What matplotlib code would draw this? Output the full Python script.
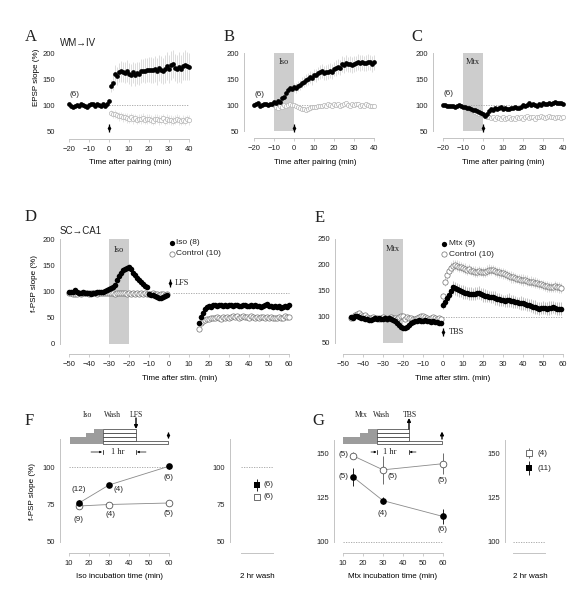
import numpy as np
import matplotlib
matplotlib.use("Agg")
import matplotlib.pyplot as plt
from matplotlib.patches import Rectangle

# ---- data ----
# A: WM->IV, pairing alone
a_t_pre = np.arange(-20, 1)
a_iso_pre = [102, 98, 97, 99, 100, 98, 101, 100, 99, 97,
             100, 102, 101, 99, 102, 100, 99, 101, 99, 102,
             107]
a_t_post = np.arange(1, 41)
a_iso_post = [137, 143, 160, 156, 163, 165, 163, 162, 165, 160,
              158, 163, 158, 161, 160, 165, 166, 166, 167, 168,
              168, 167, 169, 165, 172, 168, 166, 170, 175, 170,
              176, 178, 172, 170, 173, 169, 175, 177, 175, 174]
a_iso_err = [12, 14, 16, 18, 18, 20, 19, 20, 21, 20,
             21, 20, 22, 21, 22, 23, 22, 24, 23, 24,
             25, 24, 25, 26, 25, 26, 25, 27, 26, 27,
             28, 27, 26, 27, 28, 27, 26, 28, 27, 26]
a_ctl_post = [84, 82, 83, 80, 78, 79, 76, 77, 75, 74,
              76, 73, 75, 72, 74, 73, 75, 72, 73, 74,
              72, 70, 73, 74, 71, 72, 75, 70, 73, 72,
              71, 70, 72, 74, 71, 69, 72, 70, 73, 71]
a_ctl_err = [6, 7, 8, 7, 8, 8, 9, 8, 9, 8,
             9, 9, 8, 9, 8, 9, 9, 8, 9, 9,
             8, 9, 9, 8, 9, 9, 8, 9, 9, 8,
             9, 9, 8, 9, 9, 8, 9, 9, 8, 9]

# B: Iso before pairing
b_t = np.arange(-20, 41)
b_iso = [100, 101, 103, 99, 100, 101, 101, 100, 102, 101,
         105, 104, 108, 106, 113, 116, 123, 128, 132, 131,
         134, 133, 137, 139, 143, 145, 148, 150, 154, 151,
         158, 157, 161, 163, 165, 162, 163, 164, 166, 164,
         169, 171, 174, 172, 179, 177, 181, 178, 179, 177,
         179, 180, 183, 181, 182, 180, 181, 183, 182, 179,
         182]
b_iso_err = [3, 3, 3, 3, 3, 3, 3, 3, 3, 3,
             4, 4, 5, 5, 6, 6, 7, 7, 8, 8,
             9, 9, 10, 10, 10, 11, 11, 11, 12, 12,
             12, 12, 13, 13, 13, 13, 14, 14, 14, 14,
             14, 15, 15, 15, 15, 15, 15, 15, 15, 15,
             15, 15, 15, 15, 15, 15, 15, 15, 15, 15,
             15]
b_t_ctl = np.arange(-10, 41)
b_ctl = [100, 97, 95, 98, 96, 100, 99, 100, 101, 100,
         100, 98, 96, 94, 93, 92, 90, 93, 95, 96,
         97, 96, 98, 99, 98, 100, 99, 101, 100, 99,
         101, 100, 102, 99, 100, 101, 103, 100, 99, 101,
         100, 102, 101, 99, 100, 98, 101, 100, 99, 98,
         99]

# C: Mtx before pairing
c_t = np.arange(-20, 41)
c_mtx = [100, 100, 99, 99, 98, 99, 97, 99, 100, 99,
         97, 96, 95, 94, 92, 91, 90, 88, 86, 85,
         82, 78, 82, 88, 92, 90, 95, 93, 94, 97,
         93, 95, 92, 92, 95, 95, 97, 95, 95, 97,
         100, 98, 100, 103, 100, 102, 100, 98, 101, 100,
         104, 101, 102, 103, 102, 103, 106, 104, 104, 103,
         102]
c_t_ctl = np.arange(-10, 41)
c_ctl = [98, 96, 95, 93, 91, 89, 87, 85, 83, 82,
         80, 78, 77, 76, 75, 77, 74, 76, 75, 73,
         76, 74, 75, 77, 73, 75, 74, 76, 75, 77,
         74, 76, 78, 75, 77, 76, 74, 77, 76, 78,
         77, 75, 76, 78, 77, 76, 75, 77, 76, 75,
         76]

# D: SC->CA1, Iso and LFS
d_t_pre = np.arange(-50, 0)
d_iso_pre = [100, 99, 100, 102, 99, 98, 98, 99, 97, 98,
             97, 96, 98, 97, 99, 100, 99, 100, 101, 103,
             104, 106, 108, 113, 122, 130, 136, 141, 143, 145,
             146, 142, 136, 131, 126, 122, 118, 114, 111, 108,
             96, 94, 93, 91, 90, 88, 88, 90, 91, 93]
d_ctl_pre = [98, 97, 95, 96, 95, 97, 96, 97, 98, 97,
             96, 97, 98, 97, 96, 97, 98, 97, 98, 97,
             98, 97, 98, 96, 98, 97, 97, 98, 97, 96,
             97, 96, 97, 96, 97, 96, 97, 96, 97, 96,
             96, 95, 97, 95, 96, 94, 95, 96, 94, 95]
d_t_post = np.arange(15, 61)
d_iso_post = [40, 52, 60, 66, 70, 72, 71, 74, 75, 73,
              74, 75, 73, 74, 72, 75, 74, 73, 75, 74,
              72, 73, 75, 74, 72, 73, 75, 73, 74, 72,
              73, 71, 73, 74, 76, 73, 72, 70, 72, 70,
              72, 69, 71, 72, 71, 75]
d_ctl_post = [28, 40, 44, 46, 48, 47, 49, 50, 50, 51,
              50, 48, 51, 49, 52, 50, 51, 53, 52, 54,
              50, 52, 53, 51, 52, 50, 53, 51, 49, 52,
              50, 51, 52, 50, 51, 49, 51, 50, 50, 49,
              51, 50, 49, 53, 51, 51]

# E: Mtx and TBS
e_t_pre = np.arange(-46, 0)
e_mtx_pre = [100, 99, 102, 101, 100, 99, 98, 97, 96, 95,
             94, 97, 98, 97, 98, 97, 97, 98, 97, 98,
             96, 95, 93, 88, 84, 80, 79, 79, 81, 84,
             88, 91, 92, 93, 94, 93, 93, 94, 93, 92,
             91, 92, 91, 90, 89, 88]
e_ctl_pre = [98, 100, 104, 106, 107, 104, 102, 103, 100, 99,
             98, 100, 99, 98, 97, 99, 100, 98, 97, 99,
             100, 98, 99, 97, 100, 101, 101, 97, 100, 99,
             98, 97, 96, 99, 100, 101, 102, 100, 98, 97,
             99, 100, 98, 97, 98, 97]
e_t_post = np.arange(0, 60)
e_mtx_post = [124, 128, 136, 142, 150, 157, 155, 153, 151, 150,
              148, 147, 146, 145, 145, 144, 145, 146, 147, 144,
              142, 141, 140, 139, 138, 138, 137, 135, 134, 133,
              132, 131, 132, 133, 131, 130, 129, 128, 127, 127,
              126, 125, 124, 123, 122, 120, 119, 117, 116, 117,
              118, 117, 116, 117, 118, 119, 117, 116, 116, 116]
e_mtx_err = [8, 9, 10, 11, 12, 13, 12, 13, 12, 12,
             13, 12, 11, 12, 13, 12, 12, 11, 12, 12,
             13, 12, 12, 11, 12, 12, 13, 12, 12, 12,
             11, 12, 12, 13, 12, 12, 12, 11, 12, 13,
             12, 12, 12, 11, 12, 12, 13, 12, 12, 11,
             12, 12, 12, 13, 12, 12, 11, 12, 12, 12]
e_ctl_post = [140, 168, 180, 188, 195, 198, 200, 199, 197, 196,
              194, 193, 190, 192, 189, 188, 187, 186, 188, 187,
              186, 187, 189, 191, 190, 191, 189, 187, 186, 185,
              184, 183, 181, 179, 177, 176, 175, 174, 173, 172,
              171, 171, 170, 168, 168, 167, 166, 165, 164, 163,
              162, 160, 159, 158, 158, 157, 159, 158, 157, 156]
e_ctl_err = [6, 8, 9, 10, 10, 11, 10, 10, 11, 10,
             10, 11, 10, 10, 9, 10, 11, 10, 10, 9,
             10, 10, 11, 10, 10, 9, 10, 10, 11, 10,
             10, 9, 10, 10, 11, 10, 10, 9, 10, 10,
             11, 10, 10, 9, 10, 10, 11, 10, 10, 9,
             10, 10, 11, 10, 10, 9, 10, 10, 10, 9]

# F: Iso incubation time
f_t = [15, 30, 60]
f_iso = [76, 88, 100.5]
f_iso_err = [2, 1.5, 1.5]
f_iso_n = ["(12)", "(4)", "(6)"]
f_ctl = [74, 75, 76]
f_ctl_err = [1, 1, 1]
f_ctl_n = ["(9)", "(4)", "(5)"]
f_wash = [88, 80]
f_wash_err = [4, 1]
f_wash_n = ["(6)", "(6)"]

# G: Mtx incubation time
g_t = [15, 30, 60]
g_ctl = [149, 141, 144.5]
g_ctl_err = [2, 8, 6]
g_ctl_n = ["(5)", "(5)", "(5)"]
g_mtx = [137, 123.5, 114.5]
g_mtx_err = [5, 2, 4]
g_mtx_n = ["(5)", "(4)", "(6)"]
g_wash = [150.5, 142]
g_wash_err = [3, 4]
g_wash_n = ["(4)", "(11)"]

# ---- figure ----
SANS = ["Liberation Sans", "DejaVu Sans"]
SERIF = ["Liberation Serif", "DejaVu Serif"]
plt.rcParams["font.family"] = SANS
plt.rcParams["font.size"] = 5.8
plt.rcParams["text.color"] = "#222222"
plt.rcParams["xtick.labelcolor"] = "#222222"
plt.rcParams["ytick.labelcolor"] = "#222222"

AXC = "#c4c4c4"
SHADE = "#cdcdcd"
W, H = 588, 600
fig = plt.figure(figsize=(W / 100, H / 100), dpi=100)

# overlay in pixel coordinates for letters and schematics
ov = fig.add_axes([0, 0, 1, 1])
ov.set_xlim(0, W)
ov.set_ylim(H, 0)
ov.axis("off")


def panel(xp, xv, yp, yv, box, xb, yb):
    l, r, t, b = box
    sx = (xp[1] - xp[0]) / (xv[1] - xv[0])
    sy = (yp[1] - yp[0]) / (yv[1] - yv[0])
    ax = fig.add_axes([l / W, 1 - b / H, (r - l) / W, (b - t) / H])
    ax.set_xlim(xv[0] + (l - xp[0]) / sx, xv[0] + (r - xp[0]) / sx)
    ax.set_ylim(yv[0] + (b - yp[0]) / sy, yv[0] + (t - yp[0]) / sy)
    ax.patch.set_visible(False)
    ax.spines[["top", "right"]].set_visible(False)
    ax.spines[["left", "bottom"]].set_color(AXC)
    ax.spines[["left", "bottom"]].set_linewidth(0.7)
    ax.spines["left"].set_bounds(*yb)
    ax.spines["bottom"].set_bounds(*xb)
    ax.tick_params(axis="y", length=0, pad=3.5, labelsize=5.5)
    ax.tick_params(axis="x", length=2, width=0.6, color=AXC, pad=3, labelsize=5.5)
    return ax


def xlab(ax, s, px, py):
    ax.set_xlabel(s, fontsize=5.8)
    ax.xaxis.set_label_coords(px, py, transform=ov.transData)
    ax.xaxis.label.set_va("center")


def ylab(ax, s, px, py):
    ax.set_ylabel(s, fontsize=5.8)
    ax.yaxis.set_label_coords(px, py, transform=ov.transData)
    ax.yaxis.label.set_va("center")


def stim(ax, x, y):
    ax.plot([x], [y], marker="|", ms=5.5, mew=0.9, color="k", clip_on=False)
    ax.plot([x], [y], marker="d", ms=3.2, mew=0, color="k", clip_on=False)


def dashed(ax, x0, x1, y):
    ax.plot([x0, x1], [y, y], color="#a0a0a0", lw=0.6, dashes=(1.5, 1.5), zorder=1)


def shade(ax, x0, x1, y0, y1, s, ty):
    ax.add_patch(Rectangle((x0, y0), x1 - x0, y1 - y0, fc=SHADE, ec="none", zorder=0))
    ax.text((x0 + x1) / 2, ty, s, family=SERIF, fontsize=6, ha="center", va="center")


MS_AC = 3.4
black = dict(fmt="o", color="k", ms=MS_AC, mew=0, ecolor="#cfcfcf", elinewidth=0.5, capsize=0)
grey_open = dict(fmt="o", ms=3.1, mfc="white", mec="#b5b5b5", mew=0.5,
                 ecolor="#dadada", elinewidth=0.5, capsize=0)

# ---- A ----
axA = panel((69, 189), (-20, 40), (53, 131), (200, 50), (60, 194, 48, 139), (-20, 40), (50, 200))
axA.spines["left"].set_visible(False)
axA.set_xticks(range(-20, 41, 10))
axA.set_yticks([50, 100, 150, 200])
dashed(axA, 0, 40, 100)
axA.errorbar(a_t_post, a_ctl_post, yerr=a_ctl_err, **grey_open)
axA.errorbar(a_t_post, a_iso_post, yerr=a_iso_err, **black)
axA.plot(a_t_pre, a_iso_pre, "o", color="k", ms=MS_AC, mew=0)
axA.text(-17, 121, "(6)", ha="center", va="center", fontsize=5.8)
stim(axA, 0, 56)
xlab(axA, "Time after pairing (min)", 130, 163)
ylab(axA, "EPSP slope (%)", 37, 77)

# ---- B ----
axB = panel((254, 374), (-20, 40), (53, 131), (200, 50), (244, 379, 48, 138), (-20, 40), (50, 200))
axB.set_xticks(range(-20, 41, 10))
axB.set_yticks([50, 100, 150, 200])
shade(axB, -10, 0, 50, 200, "Iso", 182)
dashed(axB, -10, 40, 100)
axB.plot(b_t_ctl, b_ctl, "o", ms=3.1, mfc="white", mec="#b5b5b5", mew=0.5)
axB.errorbar(b_t, b_iso, yerr=b_iso_err, **black)
axB.text(-17.3, 121, "(6)", ha="center", va="center", fontsize=5.8)
stim(axB, 0, 55)
xlab(axB, "Time after pairing (min)", 315, 163)

# ---- C ----
axC = panel((443, 563), (-20, 40), (53, 131), (200, 50), (433, 568, 48, 138), (-20, 40), (50, 200))
axC.set_xticks(range(-20, 41, 10))
axC.set_yticks([50, 100, 150, 200])
shade(axC, -10, 0, 50, 200, "Mtx", 182)
dashed(axC, -10, 40, 100)
axC.plot(c_t_ctl, c_ctl, "o", ms=3.1, mfc="white", mec="#b5b5b5", mew=0.5)
axC.plot(c_t, c_mtx, "o", color="k", ms=MS_AC, mew=0)
axC.text(-17.3, 122, "(6)", ha="center", va="center", fontsize=5.8)
stim(axC, 0, 56)
xlab(axC, "Time after pairing (min)", 503, 163)

# ---- D ----
axD = panel((69, 289), (-50, 60), (239, 344), (200, 0), (60, 294, 234, 354), (-50, 60), (0, 200))
axD.set_xticks(range(-50, 61, 10))
axD.set_yticks([0, 50, 100, 150, 200])
shade(axD, -30, -20, 0, 200, "Iso", 180)
dashed(axD, 2, 60, 97)
open_d = dict(ms=3.8, mfc="white", mec="#707070", mew=0.5)
axD.plot(d_t_pre, d_ctl_pre, "o", **open_d)
axD.plot(d_t_post, d_ctl_post, "o", **open_d)
axD.plot(d_t_pre, d_iso_pre, "o", color="k", ms=4, mew=0)
axD.plot(d_t_post, d_iso_post, "o", color="k", ms=4, mew=0)
stim(axD, 0.5, 117)
axD.text(3, 117, "LFS", family=SERIF, fontsize=6, ha="left", va="center")
xlab(axD, "Time after stim. (min)", 180, 378)
ylab(axD, "f-PSP slope (%)", 35, 283)
ov.plot([172], [243], "o", color="k", ms=3.8, mew=0)
ov.plot([172], [253.5], "o", **open_d)
ov.text(176, 243, "Iso (8)", va="center", fontsize=6)
ov.text(176, 253.5, "Control (10)", va="center", fontsize=6)

# ---- E ----
axE = panel((343, 563), (-50, 60), (239, 343), (250, 50), (335, 568, 234, 354), (-50, 60), (50, 250))
axE.set_xticks(range(-50, 61, 10))
axE.set_yticks([50, 100, 150, 200, 250])
shade(axE, -30, -20, 50, 250, "Mtx", 230)
dashed(axE, 0, 60, 100)
axE.plot(e_t_pre, e_ctl_pre, "o", **open_d)
axE.errorbar(e_t_post, e_ctl_post, yerr=e_ctl_err, fmt="o", ms=3.8, mfc="white", mec="#707070",
             mew=0.5, ecolor="#c8c8c8", elinewidth=0.5, capsize=0)
axE.plot(e_t_pre, e_mtx_pre, "o", color="k", ms=4, mew=0)
axE.errorbar(e_t_post, e_mtx_post, yerr=e_mtx_err, fmt="o", color="k", ms=4, mew=0,
             ecolor="#a8a8a8", elinewidth=0.5, capsize=0)
stim(axE, 0.2, 71)
axE.text(3, 71, "TBS", family=SERIF, fontsize=6, ha="left", va="center")
xlab(axE, "Time after stim. (min)", 453, 378)
ov.plot([444], [243.5], "o", color="k", ms=3.8, mew=0)
ov.plot([444], [254], "o", **open_d)
ov.text(449, 243.5, "Mtx (9)", va="center", fontsize=6)
ov.text(449, 254, "Control (10)", va="center", fontsize=6)

# ---- F ----
axF = panel((69, 169), (10, 60), (467, 542), (100, 50), (60, 175, 430, 553), (10, 60), (50, 119))
axF.set_xticks(range(10, 61, 10))
axF.set_yticks([50, 75, 100])
dashed(axF, 10, 60, 100)
axF.errorbar(f_t, f_ctl, yerr=f_ctl_err, fmt="-o", color="#8a8a8a", lw=0.6, ms=4.8, mfc="white",
             mec="#555555", mew=0.6, ecolor="#555555", elinewidth=0.6, capsize=0)
axF.errorbar(f_t, f_iso, yerr=f_iso_err, fmt="-o", color="#8a8a8a", lw=0.6, ms=4.8, mfc="k",
             mec="k", mew=0, ecolor="k", elinewidth=0.6, capsize=0)
for x, y, s in zip([15, 34.5, 60], [85.3, 85.3, 93.3], f_iso_n):
    axF.text(x, y, s, ha="center", va="center", fontsize=5.8)
for x, y, s in zip([15, 30.5, 60], [65.3, 68, 68.7], f_ctl_n):
    axF.text(x, y, s, ha="center", va="center", fontsize=5.8)
xlab(axF, "Iso incubation time (min)", 120, 576)
ylab(axF, "f-PSP slope (%)", 33, 491)

axFr = panel((241, 273), (-1, 1), (467, 542), (100, 50), (230, 285, 430, 553), (-1, 1), (50, 119))
axFr.set_xticks([])
axFr.set_yticks([50, 75, 100])
dashed(axFr, -1, 1, 100)
axFr.errorbar([0], [f_wash[1]], yerr=[f_wash_err[1]], fmt="s", ms=4, mfc="white", mec="#555555",
              mew=0.6, ecolor="#555555", elinewidth=0.6, capsize=0)
axFr.errorbar([0], [f_wash[0]], yerr=[f_wash_err[0]], fmt="s", ms=4, color="k", mew=0,
              ecolor="k", elinewidth=0.6, capsize=0)
for y, s in zip(f_wash, f_wash_n):
    axFr.text(0.4, y, s, ha="left", va="center", fontsize=5.8)
xlab(axFr, "2 hr wash", 257, 576)

# ---- G ----
axG = panel((343, 443), (10, 60), (454, 542), (150, 100), (334, 450, 430, 553), (10, 60), (100, 158))
axG.set_xticks(range(10, 61, 10))
axG.set_yticks([100, 125, 150])
dashed(axG, 10, 60, 100)
axG.errorbar(g_t, g_ctl, yerr=g_ctl_err, fmt="-o", color="#8a8a8a", lw=0.6, ms=4.8, mfc="white",
             mec="#555555", mew=0.6, ecolor="#555555", elinewidth=0.6, capsize=0)
axG.errorbar(g_t, g_mtx, yerr=g_mtx_err, fmt="-o", color="#8a8a8a", lw=0.6, ms=4.8, mfc="k",
             mec="k", mew=0, ecolor="k", elinewidth=0.6, capsize=0)
for x, y, s in zip([10.2, 34.5, 60], [150, 137, 134.7], g_ctl_n):
    axG.text(x, y, s, ha="center", va="center", fontsize=5.8)
for x, y, s in zip([10.2, 30, 60], [137, 116, 107], g_mtx_n):
    axG.text(x, y, s, ha="center", va="center", fontsize=5.8)
xlab(axG, "Mtx incubation time (min)", 393, 576)

axGr = panel((513, 545), (-1, 1), (454, 542), (150, 100), (505, 560, 430, 553), (-1, 1), (100, 158))
axGr.set_xticks([])
axGr.set_yticks([100, 125, 150])
dashed(axGr, -1, 1, 100)
axGr.errorbar([0], [g_wash[0]], yerr=[g_wash_err[0]], fmt="s", ms=4, mfc="white", mec="#555555",
              mew=0.6, ecolor="#555555", elinewidth=0.6, capsize=0)
axGr.errorbar([0], [g_wash[1]], yerr=[g_wash_err[1]], fmt="s", ms=4, color="k", mew=0,
              ecolor="k", elinewidth=0.6, capsize=0)
for y, s in zip(g_wash, g_wash_n):
    axGr.text(0.5, y, s, ha="left", va="center", fontsize=5.8)
xlab(axGr, "2 hr wash", 530, 576)

# ---- panel letters and pathway titles ----
for s, x, y in [("A", 31, 37), ("B", 229, 37), ("C", 417, 37), ("D", 31, 217),
                ("E", 320, 218), ("F", 29, 421), ("G", 318, 421)]:
    ov.text(x, y, s, family=SERIF, fontsize=12, ha="center", va="center")
ov.text(60, 43.5, "WM\u2192IV", fontsize=7, ha="left", va="center")
ov.text(60, 231, "SC\u2192CA1", fontsize=7, ha="left", va="center")


# ---- incubation schematics in F and G ----
def schematic(gray_start, gray_end, white_end, labels, label_x, stim_x, arrow_x, down, hr):
    tops = [429.3, 433.05, 436.8, 440.55]
    for g0, w1, yt in zip(gray_start, white_end, tops):
        ov.add_patch(Rectangle((g0, yt), gray_end - g0, 3.75, fc="#9c9c9c", ec="none"))
        ov.add_patch(Rectangle((gray_end, yt), w1 - gray_end, 3.75, fc="white", ec="#333333", lw=0.5))
    for s, x in zip(labels, label_x):
        ov.text(x, 415, s, family=SERIF, fontsize=5.6, ha="center", va="center")
    a0, a1 = (418, 429) if down else (429, 418)
    ov.annotate("", xy=(arrow_x, a1), xytext=(arrow_x, a0),
                arrowprops=dict(arrowstyle="-|>", color="k", lw=1.0, mutation_scale=5,
                                shrinkA=0, shrinkB=0))
    if down:
        ov.plot([stim_x], [435], marker="|", ms=5, mew=0.9, color="k")
        ov.plot([stim_x], [435], marker="d", ms=3, mew=0, color="k")
    else:
        ov.annotate("", xy=(stim_x, 431.5), xytext=(stim_x, 439),
                    arrowprops=dict(arrowstyle="-|>", color="k", lw=1.0, mutation_scale=5,
                                    shrinkA=0, shrinkB=0))
    l0, l1, r0, r1, cx = hr
    ov.annotate("", xy=(l1, 452), xytext=(l0, 452),
                arrowprops=dict(arrowstyle="-|>", color="k", lw=0.5, mutation_scale=3,
                                shrinkA=0, shrinkB=0))
    ov.annotate("", xy=(r0, 452), xytext=(r1, 452),
                arrowprops=dict(arrowstyle="-|>", color="k", lw=0.5, mutation_scale=3,
                                shrinkA=0, shrinkB=0))
    ov.plot([l1 + 0.8, l1 + 0.8], [450, 454], color="k", lw=0.5)
    ov.plot([r0 - 0.8, r0 - 0.8], [450, 454], color="k", lw=0.5)
    ov.text(cx, 452, "1 hr", family=SERIF, fontsize=6, ha="center", va="center")


schematic([94, 86, 70, 70], 103, [136, 136, 136, 168], ["Iso", "Wash", "LFS"], [87, 112, 136],
          167.5, 136, True, (91, 102, 137, 146, 118))
schematic([368, 360, 343, 343], 377, [409, 409, 409, 442], ["Mtx", "Wash", "TBS"], [361, 381, 410],
          442, 409, False, (371, 376.5, 409.5, 416, 390))

fig.savefig("out.png", dpi=100)
